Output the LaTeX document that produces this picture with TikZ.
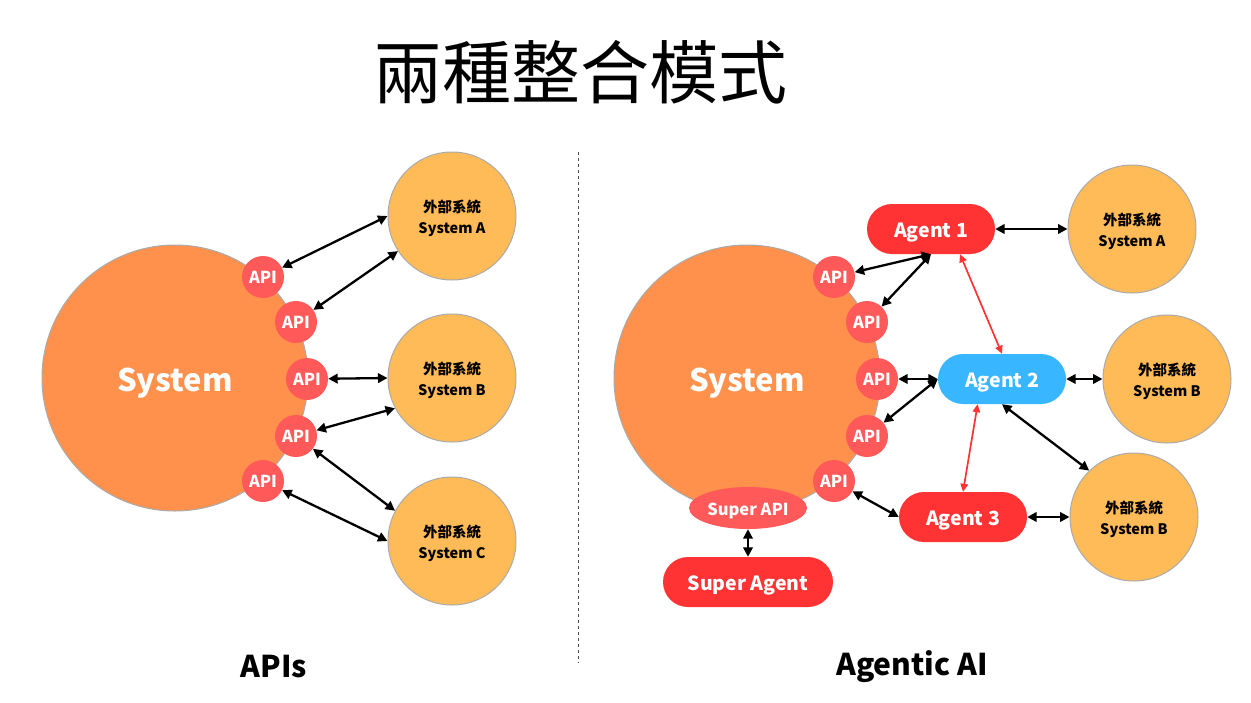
\documentclass[tikz,border=0pt]{standalone}
\usepackage{fontspec}
\setmainfont{Noto Sans CJK TC}
\usetikzlibrary{arrows.meta,shapes.geometric}
\definecolor{sysorange}{RGB}{255,145,77}
\definecolor{apired}{RGB}{255,89,89}
\definecolor{extorange}{RGB}{255,187,87}
\definecolor{agentred}{RGB}{255,51,51}
\definecolor{agentblue}{RGB}{56,182,255}
\definecolor{rimgray}{RGB}{170,170,170}
\tikzset{
  bigsys/.style={circle, fill=sysorange, draw=rimgray, line width=1pt, minimum size=266pt, inner sep=0pt, text=white, text height=30pt, text depth=4pt, font=\bfseries\fontsize{31}{31}\selectfont},
  apinode/.style={circle, fill=apired, minimum size=42pt, inner sep=0pt, text=white, text height=17pt, text depth=4pt, font=\bfseries\fontsize{16.5}{16.5}\selectfont},
  extsys/.style={circle, fill=extorange, draw=rimgray, line width=1pt, minimum size=128pt, inner sep=0pt, align=center, text height=38pt, text depth=4pt, font=\bfseries\fontsize{14.5}{20.5}\selectfont},
  agentbox/.style={rectangle, rounded corners=25pt, minimum width=128pt, minimum height=50pt, inner sep=0pt, text=white, text height=20pt, text depth=4pt, font=\bfseries\fontsize{19.5}{19.5}\selectfont},
  link/.style={line width=2.3pt, {Triangle[length=9.5pt,width=9.5pt]}-{Triangle[length=9.5pt,width=9.5pt]}},
  redlink/.style={line width=1.7pt, draw=agentred, {Triangle[length=8pt,width=7.5pt]}-{Triangle[length=8pt,width=7.5pt]}},
  heading/.style={font=\bfseries\fontsize{30}{30}\selectfont}
}
\begin{document}
\begin{tikzpicture}[x=1pt,y=-1pt]
\useasboundingbox[fill=white] (0,0) rectangle (1251,702);
\node[font=\fontsize{69}{69}\selectfont] (title) at (580,72) {兩種整合模式};
\coordinate (divtop) at (578,152);
\coordinate (divbot) at (578,663);
\draw[dashed, line width=0.8pt, draw=black!70] (divtop) -- (divbot);

% ---------- left: APIs ----------
\node[bigsys] (lsys) at (175,378) {System};
\node[apinode] (la1) at (263,277) {API};
\node[apinode] (la2) at (296,322) {API};
\node[apinode] (la3) at (307,379) {API};
\node[apinode] (la4) at (296,436) {API};
\node[apinode] (la5) at (263,481) {API};
\node[extsys] (lsa) at (452,216) {外部系統\\System A};
\node[extsys] (lsb) at (452,378) {外部系統\\System B};
\node[extsys] (lsc) at (452,541) {外部系統\\System C};
\draw[link] (la1) -- (lsa.west);
\draw[link] (la2) -- (lsa.213);
\draw[link] (la3) -- (lsb.west);
\draw[link] (la4) -- (lsb.208);
\draw[link] (la4) -- (lsc.152);
\draw[link] (la5) -- (lsc.west);
\node[heading] (lhead) at (274,667) {APIs};

% ---------- right: Agentic AI ----------
\node[bigsys] (rsys) at (747,378) {System};
\node[apinode] (ra1) at (834,277) {API};
\node[apinode] (ra2) at (867,322) {API};
\node[apinode] (ra3) at (877,379) {API};
\node[apinode] (ra4) at (867,436) {API};
\node[apinode] (ra5) at (834,481) {API};
\node[ellipse, fill=apired, minimum width=118pt, minimum height=42pt, inner sep=0pt, text=white, text height=18pt, text depth=4pt, font=\bfseries\fontsize{16.5}{16.5}\selectfont] (sapi) at (748,508) {Super API};
\node[agentbox, fill=agentred, minimum width=170pt] (sag) at (748,582) {Super Agent};
\node[agentbox, fill=agentred] (ag1) at (931,229) {Agent 1};
\node[agentbox, fill=agentblue] (ag2) at (1002,379) {Agent 2};
\node[agentbox, fill=agentred] (ag3) at (963,517) {Agent 3};
\node[extsys] (rsa) at (1132,229) {外部系統\\System A};
\node[extsys] (rsb) at (1167,379) {外部系統\\System B};
\node[extsys] (rsc) at (1134,517) {外部系統\\System B};
\draw[link] (ag1) -- (rsa);
\draw[link] (ra1) -- (ag1.south);
\draw[link] (ra2) -- (ag1.south);
\draw[link] (ra3) -- (ag2.west);
\draw[link] (ra4) -- (ag2.west);
\draw[link] (ra5) -- (ag3.west);
\draw[link] (ag2) -- (rsb);
\draw[link] (ag2.south) -- (rsc.134);
\draw[link] (ag3) -- (rsc);
\draw[link] (sapi) -- (sag);
\draw[redlink] (ag1.-41) -- (ag2.north);
\draw[redlink] (ag3.north) -- (ag2.-134);
\node[heading] (rhead) at (912,667) {Agentic AI};
\end{tikzpicture}
\end{document}
